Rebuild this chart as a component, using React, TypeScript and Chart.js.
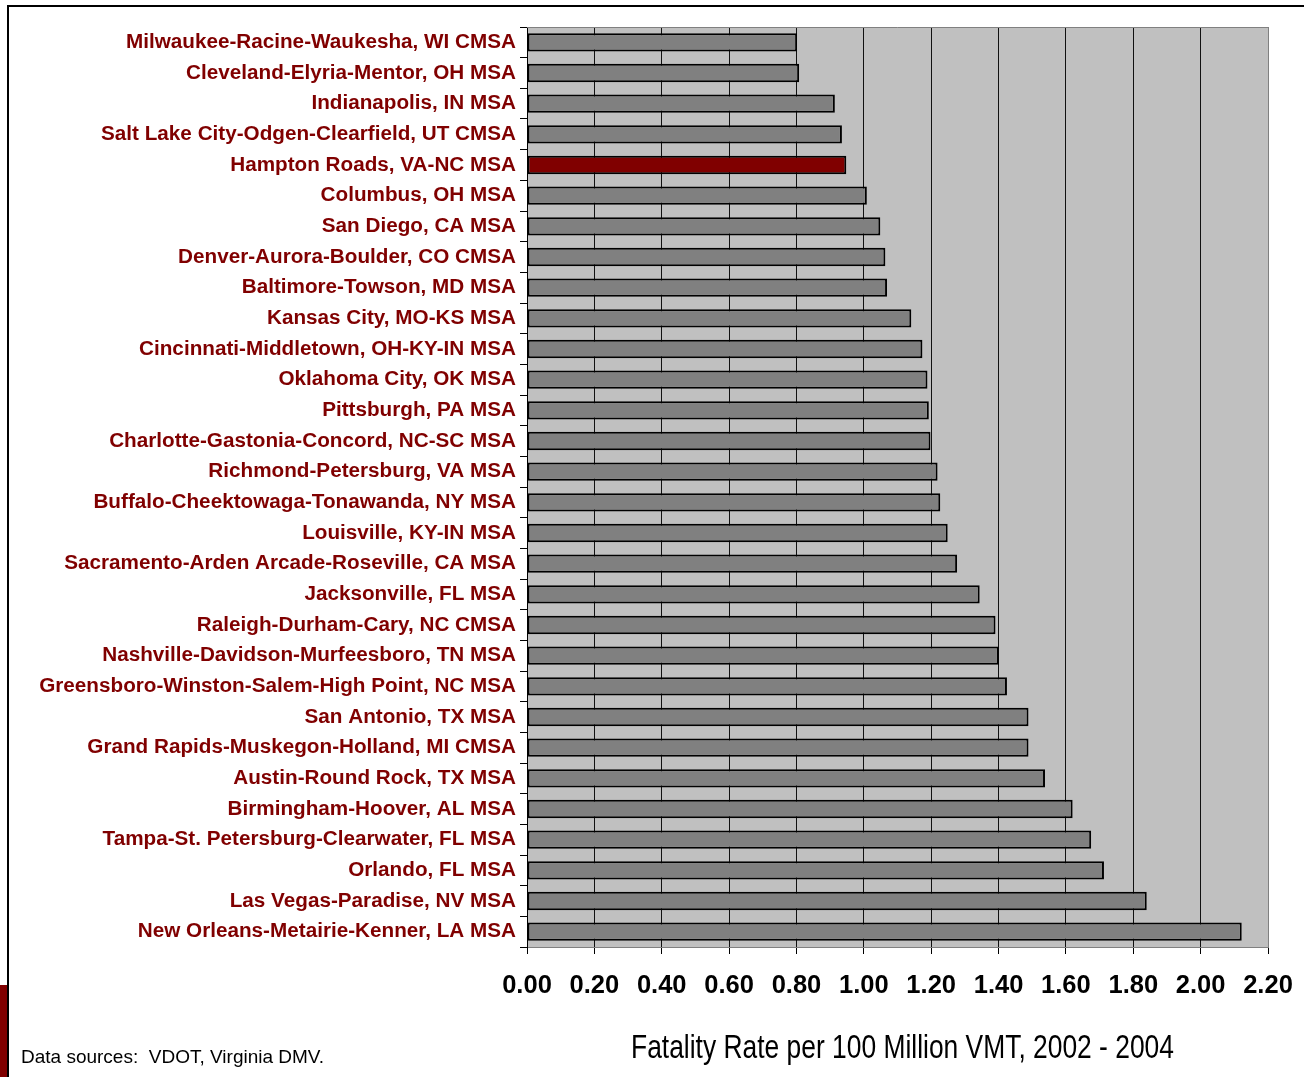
import React, { useEffect, useRef } from "react";
import { Chart, registerables } from "chart.js";

Chart.register(...registerables);

const categories: string[] = [
  "Milwaukee-Racine-Waukesha, WI CMSA",
  "Cleveland-Elyria-Mentor, OH MSA",
  "Indianapolis, IN MSA",
  "Salt Lake City-Odgen-Clearfield, UT CMSA",
  "Hampton Roads, VA-NC MSA",
  "Columbus, OH MSA",
  "San Diego, CA MSA",
  "Denver-Aurora-Boulder, CO CMSA",
  "Baltimore-Towson, MD MSA",
  "Kansas City, MO-KS MSA",
  "Cincinnati-Middletown, OH-KY-IN MSA",
  "Oklahoma City, OK MSA",
  "Pittsburgh, PA MSA",
  "Charlotte-Gastonia-Concord, NC-SC MSA",
  "Richmond-Petersburg, VA MSA",
  "Buffalo-Cheektowaga-Tonawanda, NY MSA",
  "Louisville, KY-IN MSA",
  "Sacramento-Arden Arcade-Roseville, CA MSA",
  "Jacksonville, FL MSA",
  "Raleigh-Durham-Cary, NC CMSA",
  "Nashville-Davidson-Murfeesboro, TN MSA",
  "Greensboro-Winston-Salem-High Point, NC MSA",
  "San Antonio, TX MSA",
  "Grand Rapids-Muskegon-Holland, MI CMSA",
  "Austin-Round Rock, TX MSA",
  "Birmingham-Hoover, AL MSA",
  "Tampa-St. Petersburg-Clearwater, FL MSA",
  "Orlando, FL MSA",
  "Las Vegas-Paradise, NV MSA",
  "New Orleans-Metairie-Kenner, LA MSA",
];

const fatalityRates: number[] = [
  0.802, 0.808, 0.914, 0.935, 0.948, 1.009, 1.049, 1.064, 1.069, 1.141,
  1.174, 1.189, 1.193, 1.198, 1.219, 1.227, 1.249, 1.277, 1.344, 1.391,
  1.401, 1.425, 1.489, 1.489, 1.538, 1.62, 1.675, 1.713, 1.84, 2.122,
];

const highlighted: string[] = ["Hampton Roads, VA-NC MSA"];

const xTickMin = 0;
const xTickMax = 2.2;
const xTickStep = 0.2;

const axisTitle = "Fatality Rate per 100 Million VMT, 2002 - 2004";
const sourceNote = "Data sources:  VDOT, Virginia DMV.";

const plotBgPlugin = {
  id: "plotBg",
  beforeDraw(chart: any) {
    const { ctx, chartArea } = chart;
    if (!chartArea) return;
    ctx.save();
    ctx.fillStyle = "#c0c0c0";
    ctx.fillRect(
      chartArea.left,
      chartArea.top,
      chartArea.right - chartArea.left,
      chartArea.bottom - chartArea.top
    );
    ctx.restore();
  },
  beforeDatasetsDraw(chart: any) {
    const { ctx, chartArea } = chart;
    ctx.save();
    ctx.strokeStyle = "#808080";
    ctx.lineWidth = 1;
    ctx.beginPath();
    ctx.moveTo(chartArea.left, chartArea.top + 0.5);
    ctx.lineTo(chartArea.right, chartArea.top + 0.5);
    ctx.stroke();
    ctx.restore();
  },
  afterDraw(chart: any) {
    // narrow axis title under the x axis
    const { ctx, chartArea } = chart;
    ctx.save();
    ctx.font = "30px 'Liberation Sans', Arial, sans-serif";
    ctx.fillStyle = "#000000";
    ctx.textAlign = "center";
    ctx.textBaseline = "alphabetic";
    const cx = (chartArea.left + chartArea.right) / 2 + 5;
    const cy = chartArea.bottom + 111;
    ctx.translate(cx, cy);
    ctx.scale(0.88, 1.1);
    ctx.fillText(axisTitle, 0, 0);
    ctx.restore();
  },
};

export default function App() {
  const canvasRef = useRef<HTMLCanvasElement | null>(null);

  useEffect(() => {
    document.body.style.margin = "0";
    const canvas = canvasRef.current;
    if (!canvas) return;
    const chart = new Chart(canvas, {
      type: "bar",
      data: {
        labels: categories,
        datasets: [
          {
            data: fatalityRates,
            backgroundColor: categories.map((c) =>
              highlighted.includes(c) ? "#800000" : "#808080"
            ),
            borderColor: "#000000",
            borderWidth: 2,
            borderSkipped: false,
            barPercentage: 0.6,
            categoryPercentage: 1,
          },
        ],
      },
      options: {
        indexAxis: "y",
        animation: false,
        responsive: false,
        maintainAspectRatio: false,
        layout: { padding: { top: 27, right: 36, left: 0, bottom: 0 } },
        plugins: {
          legend: { display: false },
          tooltip: { enabled: false },
          title: { display: false },
        },
        scales: {
          x: {
            type: "linear",
            position: "bottom",
            min: xTickMin,
            max: xTickMax,
            ticks: {
              stepSize: xTickStep,
              color: "#000000",
              padding: 17,
              font: { family: "'Liberation Sans', Arial, sans-serif", size: 25.5, weight: "bold" },
              callback: (v: any) => Number(v).toFixed(2),
            },
            grid: {
              color: (ctx: any) =>
                ctx.tick && ctx.tick.value >= xTickMax - 0.001 ? "#808080" : "#111111",
              tickColor: "#000000",
              lineWidth: 1,
              drawTicks: true,
              tickLength: 7,
            },
            border: { color: "#808080", width: 1 },
            afterFit: (scale: any) => {
              scale.height = 130;
              scale.paddingLeft = 0;
              scale.paddingRight = 0;
            },
          },
          y: {
            type: "category",
            ticks: {
              color: "#800000",
              padding: 4,
              font: { family: "'Liberation Sans', Arial, sans-serif", size: 20.7, weight: "bold" },
              autoSkip: false,
            },
            grid: {
              offset: true,
              drawOnChartArea: false,
              drawTicks: true,
              tickLength: 7,
              color: "#000000",
              tickColor: "#000000",
            },
            border: { color: "#000000", width: 1 },
            afterFit: (scale: any) => {
              scale.width = 527;
              scale.paddingTop = 0;
              scale.paddingBottom = 0;
            },
          },
        },
      },
      plugins: [plotBgPlugin],
    } as any);
    return () => chart.destroy();
  }, []);

  return (
    <div style={{ position: "absolute", left: 0, top: 0, width: 1304, height: 1077, overflow: "hidden", background: "#ffffff" }}>
      <canvas ref={canvasRef} width={1304} height={1077} style={{ position: "absolute", left: 0, top: 0, width: 1304, height: 1077 }} />
      <div style={{ position: "absolute", left: 7, top: 5, width: 1400, height: 1200, borderTop: "2px solid #000", borderLeft: "2px solid #000", pointerEvents: "none" }} />
      <div style={{ position: "absolute", left: 0, top: 985, width: 7, height: 92, background: "#800000" }} />
      <div style={{ position: "absolute", left: 21, top: 1046, fontFamily: "'Liberation Sans', Arial, sans-serif", fontSize: 19, lineHeight: "22px", color: "#000", whiteSpace: "pre" }}>
        {sourceNote}
      </div>
    </div>
  );
}
